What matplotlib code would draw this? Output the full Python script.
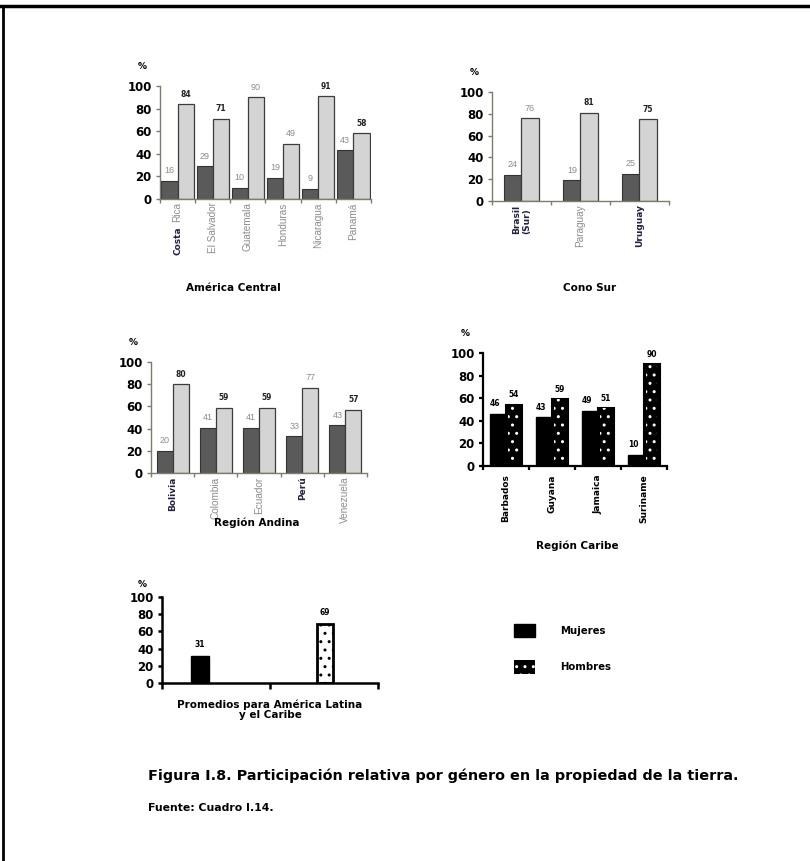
# Participación relativa por género en la propiedad de la tierra
import matplotlib.pyplot as plt
from matplotlib.lines import Line2D
from matplotlib.patches import Patch

# América Central
central_paises = ['Costa Rica', 'El Salvador', 'Guatemala', 'Honduras', 'Nicaragua', 'Panamá']
central_mujeres = [16, 29, 10, 19, 9, 43]
central_hombres = [84, 71, 90, 49, 91, 58]

# Cono Sur
cono_paises = ['Brasil\n(Sur)', 'Paraguay', 'Uruguay']
cono_mujeres = [24, 19, 25]
cono_hombres = [76, 81, 75]

# Región Andina
andina_paises = ['Bolivia', 'Colombia', 'Ecuador', 'Perú', 'Venezuela']
andina_mujeres = [20, 41, 41, 33, 43]
andina_hombres = [80, 59, 59, 77, 57]

# Región Caribe
caribe_paises = ['Barbados', 'Guyana', 'Jamaica', 'Suriname']
caribe_mujeres = [46, 43, 49, 10]
caribe_hombres = [54, 59, 51, 90]

# Promedios
latam_mujeres = 31
latam_hombres = 69

yticks = [0, 20, 40, 60, 80, 100]

BOLD = 'DejaVu Sans'
THIN = 'Liberation Sans'
GRIS_OSC = '#5a5a5a'
GRIS_CLARO = '#d4d4d4'
GRIS_TXT = '#8c8c8c'


def setup_axis(ax, spine_color, spine_lw, pct_offset=(-13, 14)):
    for s in ['top', 'right']:
        ax.spines[s].set_visible(False)
    for s in ['left', 'bottom']:
        ax.spines[s].set_color(spine_color)
        ax.spines[s].set_linewidth(spine_lw)
    ax.set_ylim(0, 100)
    ax.set_yticks(yticks)
    ax.set_yticklabels([str(t) for t in yticks], fontfamily=BOLD,
                       fontweight='bold', fontsize=8.5)
    ax.tick_params(axis='y', length=3, width=spine_lw, color=spine_color, pad=3)
    ax.tick_params(axis='x', length=3, width=spine_lw, color=spine_color,
                   direction='out', labelbottom=False)
    # "%" unit sign above the y axis
    ax.annotate('%', (0, 1), xycoords='axes fraction', xytext=pct_offset,
                textcoords='offset points', ha='center', va='center',
                fontfamily=BOLD, fontweight='bold', fontsize=6.5)


def value_label(ax, x, v, gris):
    if gris:
        ax.annotate(str(v), (x, v), xytext=(0, 4), textcoords='offset points',
                    ha='center', va='bottom', fontsize=6.5, color=GRIS_TXT,
                    fontfamily=THIN)
    else:
        ax.annotate(str(v), (x, v), xytext=(0, 4), textcoords='offset points',
                    ha='center', va='bottom', fontsize=5.5, color='#222222',
                    fontfamily=BOLD, fontweight='bold')


def label_style(negrita):
    if negrita:
        return dict(fontfamily=BOLD, fontweight='bold', color='#222244', fontsize=6.5)
    return dict(fontfamily=THIN, color=GRIS_TXT, fontsize=7.2)


def country_label(ax, x, name, negrita):
    return ax.annotate(name, (x, 0), xycoords=('data', 'axes fraction'),
                       xytext=(0, -2.5), textcoords='offset points', rotation=90,
                       ha='center', va='top', multialignment='left',
                       **label_style(negrita))


def grey_panel(ax, paises, mujeres, hombres, width, titulo, negritas,
               gris_hombres, titulo_xy):
    n = len(paises)
    x = list(range(n))
    ax.bar([i - width / 2 for i in x], mujeres, width, color=GRIS_OSC,
           edgecolor='#333333', linewidth=0.8)
    ax.bar([i + width / 2 for i in x], hombres, width, color=GRIS_CLARO,
           edgecolor='#3c3c3c', linewidth=0.9)
    setup_axis(ax, '#7d7d6d', 1.0)
    ax.set_xlim(-0.5, n - 0.5)
    ax.set_xticks([i - 0.5 for i in range(n + 1)])
    for i in x:
        value_label(ax, i - width / 2, mujeres[i], True)
        value_label(ax, i + width / 2, hombres[i], i in gris_hombres)
        if paises[i] == 'Costa Rica':
            # second word next to the axis, first word printed heavier below it
            t = country_label(ax, i, 'Rica', False)
            ax.annotate('Costa', (0.5, 0), xycoords=t, xytext=(0, -2.5),
                        textcoords='offset points', rotation=90, ha='center',
                        va='top', **label_style(True))
        else:
            country_label(ax, i, paises[i], i in negritas)
    ax.figure.text(titulo_xy[0], titulo_xy[1], titulo, ha='center', va='center',
                   fontfamily=BOLD, fontweight='bold', fontsize=7.5)


fig = plt.figure(figsize=(8.1, 8.61), dpi=100)

ax1 = fig.add_axes([0.1975, 0.7689, 0.2605, 0.1312])
grey_panel(ax1, central_paises, central_mujeres, central_hombres, 0.46,
           'América Central', [0], [2, 3], (233 / 810, 1 - 288 / 861))

ax2 = fig.add_axes([0.6074, 0.7666, 0.2185, 0.1266])
grey_panel(ax2, cono_paises, cono_mujeres, cono_hombres, 0.29,
           'Cono Sur', [0, 2], [0], (590 / 810, 1 - 288 / 861))

ax3 = fig.add_axes([0.1864, 0.4506, 0.2667, 0.1289])
grey_panel(ax3, andina_paises, andina_mujeres, andina_hombres, 0.37,
           'Región Andina', [0, 3], [3], (257 / 810, 1 - 523 / 861))

# Caribe: black bars, men with white speckles
ax4 = fig.add_axes([0.5963, 0.4588, 0.2272, 0.1312])
w = 0.34
xc = list(range(len(caribe_paises)))
ax4.bar([i - w / 2 for i in xc], caribe_mujeres, w, color='black',
        edgecolor='black', linewidth=1)
ax4.bar([i + w / 2 for i in xc], caribe_hombres, w, color='black',
        edgecolor='black', linewidth=1.5)
ax4.bar([i + w / 2 for i in xc], caribe_hombres, w * 0.7, color='none',
        edgecolor='white', hatch='..', linewidth=0)
setup_axis(ax4, 'black', 1.6)
ax4.set_xlim(-0.5, len(caribe_paises) - 0.5)
ax4.set_xticks([i - 0.5 for i in range(len(caribe_paises) + 1)])
for i in xc:
    ax4.annotate(str(caribe_mujeres[i]), (i - w / 2, caribe_mujeres[i]),
                 xytext=(-2, 4), textcoords='offset points', ha='center',
                 va='bottom', fontsize=5.5, fontfamily=BOLD, fontweight='bold')
    ax4.annotate(str(caribe_hombres[i]), (i + w / 2, caribe_hombres[i]),
                 xytext=(0, 4), textcoords='offset points', ha='center',
                 va='bottom', fontsize=5.5, fontfamily=BOLD, fontweight='bold')
    ax4.annotate(caribe_paises[i], (i, 0), xycoords=('data', 'axes fraction'),
                 xytext=(0, -6), textcoords='offset points', rotation=90,
                 ha='center', va='top', fontfamily=BOLD, fontweight='bold',
                 fontsize=6.5)
fig.text(577 / 810, 1 - 546 / 861, 'Región Caribe', ha='center', va='center',
         fontfamily=BOLD, fontweight='bold', fontsize=7.5)

# Latin America averages
ax5 = fig.add_axes([0.2, 0.2067, 0.2667, 0.0999])
ax5.bar(-0.65, latam_mujeres, 0.17, color='black', edgecolor='black')
ax5.bar(0.51, latam_hombres, 0.15, color='white', edgecolor='black',
        linewidth=2, hatch='..')
setup_axis(ax5, 'black', 1.8, pct_offset=(-14, 9))
ax5.set_xlim(-1, 1)
ax5.set_xticks([-1, 0, 1])
ax5.tick_params(axis='x', length=4)
ax5.annotate(str(latam_mujeres), (-0.65, latam_mujeres), xytext=(0, 5),
             textcoords='offset points', ha='center', va='bottom', fontsize=5.5,
             fontfamily=BOLD, fontweight='bold')
ax5.annotate(str(latam_hombres), (0.51, latam_hombres), xytext=(0, 5),
             textcoords='offset points', ha='center', va='bottom', fontsize=5.5,
             fontfamily=BOLD, fontweight='bold')
fig.text(270 / 810, 1 - 710 / 861, 'Promedios para América Latina\ny el Caribe',
         ha='center', va='center', fontfamily=BOLD, fontweight='bold',
         fontsize=7.5, linespacing=1.0)

# legend
handles = [Patch(facecolor='black', edgecolor='black'),
           Patch(facecolor='black', edgecolor='white', hatch='..', linewidth=0)]
fig.legend(handles, ['Mujeres', 'Hombres'], loc='upper left',
           bbox_to_anchor=(505 / 810, 1 - 615 / 861), frameon=False,
           prop={'family': BOLD, 'weight': 'bold', 'size': 7.3},
           handlelength=2.1, handleheight=1.6, handletextpad=2.4,
           labelspacing=2.3)

# caption
fig.text(148 / 810, 1 - 776 / 861,
         'Figura I.8. Participación relativa por género en la propiedad de la tierra.',
         ha='left', va='center', fontfamily=BOLD, fontweight='bold', fontsize=10.4)
fig.text(148 / 810, 1 - 808 / 861, 'Fuente: Cuadro I.14.', ha='left',
         va='center', fontfamily=BOLD, fontweight='bold', fontsize=7.8)

# page frame: top and left edges
fig.add_artist(Line2D([0, 1], [1 - 6 / 861] * 2, color='black', lw=2.5,
                      transform=fig.transFigure))
fig.add_artist(Line2D([3 / 810] * 2, [0, 1 - 6 / 861], color='black', lw=2,
                      transform=fig.transFigure))

fig.savefig('out.png', dpi=100)
